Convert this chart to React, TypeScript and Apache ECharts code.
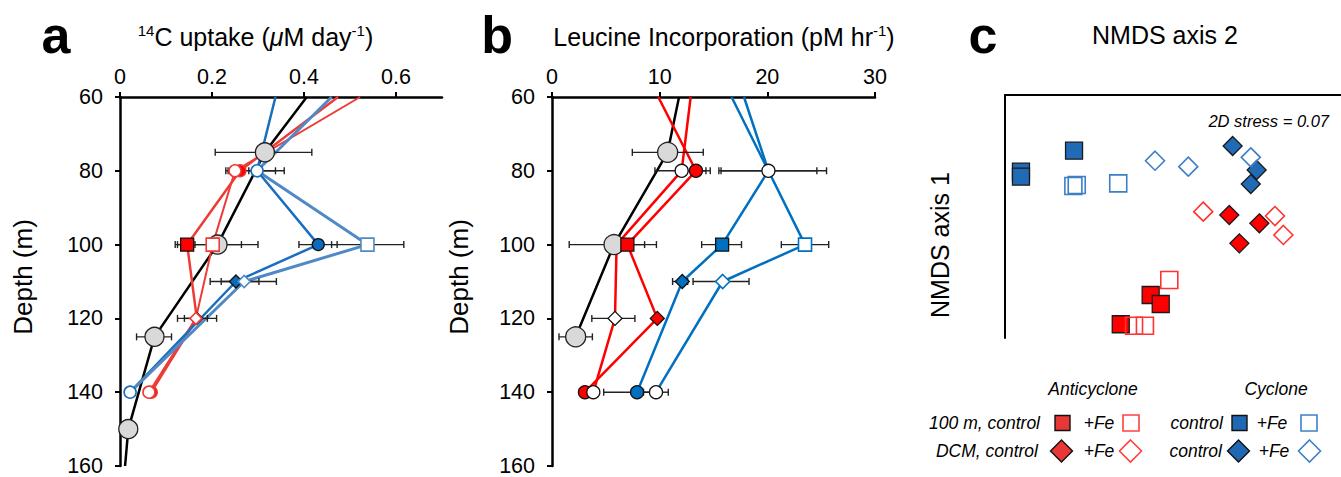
import React, { useEffect, useRef } from 'react';
import * as echarts from 'echarts';

// ---------- shared ----------
const depthMin = 60;
const depthMax = 160;
const depthStep = 20;
const aTicks = [0, 0.2, 0.4, 0.6];
const bTicks = [0, 10, 20, 30];

// ---------- panel a : 14C uptake ----------
const aBlackDepth = [60, 75, 100, 125, 150, 160];
const aBlack = [0.406, 0.315, 0.212, 0.075, 0.018, 0.011];
const aRedDepth = [60, 80, 100, 120, 140];
const aRedCtl = [0.474, 0.261, 0.146, 0.167, 0.068];
const aRedFe = [0.522, 0.25, 0.2015, 0.165, 0.063];
const aBlueDepth = [60, 80, 100, 110, 140];
const aBlueCtl = [0.338, 0.298, 0.431, 0.252, 0.022];
const aBlueFe = [0.46, 0.298, 0.538, 0.27, 0.022];
const aErrDepth = [75, 100, 125, 80, 80, 80, 80, 100, 100, 100, 100, 110, 110, 120, 120];
const aErrLo = [0.207, 0.12, 0.036, 0.23, 0.235, 0.27, 0.28, 0.125, 0.14, 0.389, 0.46, 0.196, 0.22, 0.125, 0.14];
const aErrHi = [0.417, 0.3, 0.112, 0.272, 0.26, 0.357, 0.338, 0.163, 0.264, 0.472, 0.617, 0.302, 0.34, 0.21, 0.19];

// ---------- panel b : leucine incorporation ----------
const bBlackDepth = [60, 75, 100, 125];
const bBlack = [11.8, 10.74, 5.76, 2.2];
const bRedDepth = [60, 80, 100, 120, 140];
const bRedCtl = [9.87, 13.37, 7.0, 9.78, 3.06];
const bRedFe = [12.88, 12.04, 6.0, 5.85, 3.84];
const bBlueDepth = [60, 80, 100, 110, 140];
const bBlueCtl = [17.83, 20.1, 15.8, 12.1, 7.9];
const bBlueFe = [16.68, 20.1, 23.5, 15.85, 9.66];
const bErrDepth = [75, 100, 125, 80, 80, 80, 80, 100, 100, 100, 110, 110, 120, 140, 140];
const bErrLo = [7.46, 1.6, 0.65, 9.56, 12.5, 15.5, 15.7, 5.3, 13.9, 21.3, 11.2, 13.1, 3.7, 4.8, 8.5];
const bErrHi = [14.05, 9.7, 3.75, 14.3, 14.7, 25.5, 24.6, 8.6, 17.6, 25.7, 12.6, 18.3, 7.7, 10.0, 10.8];

// ---------- panel c : NMDS ----------
const cycCtl100X = [-0.905, -0.905, -0.589];
const cycCtl100Y = [0.369, 0.328, 0.542];
const cycFe100X = [-0.593, -0.573, -0.326];
const cycFe100Y = [0.251, 0.259, 0.273];
const cycCtlDcmX = [0.355, 0.498, 0.463];
const cycCtlDcmY = [0.58, 0.383, 0.267];
const cycFeDcmX = [-0.107, 0.091, 0.463];
const cycFeDcmY = [0.459, 0.41, 0.487];
const antCtl100X = [-0.133, -0.073, -0.311];
const antCtl100Y = [-0.646, -0.72, -0.887];
const antFe100X = [-0.022, -0.232, -0.167];
const antFe100Y = [-0.523, -0.899, -0.899];
const antCtlDcmX = [0.335, 0.514, 0.395];
const antCtlDcmY = [0.012, -0.056, -0.221];
const antFeDcmX = [0.18, 0.607, 0.657];
const antFeDcmY = [0.04, 0.004, -0.152];
const stressText = '2D stress = 0.07';

const FONT = "'Liberation Sans', Arial, Helvetica, sans-serif";
const TICK_FS = 21.5;
const TITLE_FS = 25;

const line = (gi: number, depth: number[], vals: number[], color: string, width: number, z = 2) => ({
  type: 'line', xAxisIndex: gi, yAxisIndex: gi, z, silent: true,
  data: vals.map((v, i) => [v, depth[i]]),
  symbol: 'none', lineStyle: { color, width }, emphasis: { disabled: true },
});

const marks = (gi: number, depth: number[], vals: number[], idx: number[], symbol: string, size: number,
  color: string, border: string, bw = 1.3, z = 5) => ({
  type: 'scatter', xAxisIndex: gi, yAxisIndex: gi, z, silent: true,
  symbol, symbolSize: size,
  data: idx.map((i) => [vals[i], depth[i]]),
  itemStyle: { color, borderColor: border, borderWidth: bw, opacity: 1 },
  emphasis: { disabled: true },
});

const errors = (gi: number, depth: number[], lo: number[], hi: number[]) => ({
  type: 'custom', xAxisIndex: gi, yAxisIndex: gi, z: 3, silent: true,
  data: depth.map((d, i) => [lo[i], hi[i], d]),
  encode: { x: [0, 1], y: 2 },
  renderItem: (_p: any, api: any) => {
    const p1 = api.coord([api.value(0), api.value(2)]);
    const p2 = api.coord([api.value(1), api.value(2)]);
    const h = 3.5;
    const style = { stroke: '#222', lineWidth: 1.4 };
    return {
      type: 'group',
      children: [
        { type: 'line', shape: { x1: p1[0], y1: p1[1], x2: p2[0], y2: p2[1] }, style },
        { type: 'line', shape: { x1: p1[0], y1: p1[1] - h, x2: p1[0], y2: p1[1] + h }, style },
        { type: 'line', shape: { x1: p2[0], y1: p2[1] - h, x2: p2[0], y2: p2[1] + h }, style },
      ],
    };
  },
});

const nmds = (xs: number[], ys: number[], symbol: string, size: number, color: string, border: string, bw: number, z = 5) => ({
  type: 'scatter', xAxisIndex: 2, yAxisIndex: 2, z, silent: true,
  symbol, symbolSize: size,
  data: xs.map((x, i) => [x, ys[i]]),
  itemStyle: { color, borderColor: border, borderWidth: bw, opacity: 1 },
  emphasis: { disabled: true },
});

const depthAxis = (gi: number) => ({
  gridIndex: gi, type: 'value', inverse: true, min: depthMin, max: depthMax, interval: depthStep,
  axisLine: { show: true, onZero: false, lineStyle: { color: '#000', width: 2.5 } },
  axisTick: { show: true, length: 5, lineStyle: { color: '#000', width: 2 } },
  axisLabel: { fontSize: TICK_FS, color: '#000', margin: 17, fontFamily: FONT },
  splitLine: { show: false },
});

const valueAxis = (gi: number, max: number, ticks: number[]) => ({
  gridIndex: gi, type: 'value', position: 'top', min: 0, max,
  axisLine: { show: true, onZero: false, lineStyle: { color: '#000', width: 2.5 } },
  axisTick: { show: true, length: 5, customValues: ticks, lineStyle: { color: '#000', width: 2 } },
  axisLabel: { fontSize: TICK_FS, color: '#000', margin: 9, fontFamily: FONT, customValues: ticks },
  splitLine: { show: false },
});

const txt = (x: number, y: number, text: string, size: number, opts: any = {}) => ({
  type: 'text', x, y, rotation: opts.rotation || 0, silent: true,
  style: {
    text, fontSize: size, fontFamily: FONT, fill: '#000',
    fontWeight: opts.bold ? 'bold' : 'normal', fontStyle: opts.italic ? 'italic' : 'normal',
    align: opts.align || 'center', verticalAlign: 'middle', rich: opts.rich,
  },
});

const sq = (cx: number, cy: number, s: number, fill: string, stroke: string, lw: number) => ({
  type: 'rect', silent: true, shape: { x: cx - s / 2, y: cy - s / 2, width: s, height: s },
  style: { fill, stroke, lineWidth: lw },
});
const dia = (cx: number, cy: number, r: number, fill: string, stroke: string, lw: number) => ({
  type: 'polygon', silent: true,
  shape: { points: [[cx, cy - r], [cx + r, cy], [cx, cy + r], [cx - r, cy]] },
  style: { fill, stroke, lineWidth: lw },
});

const titleRich = (size: number) => ({
  n: { fontSize: size, fontFamily: FONT, fill: '#000', lineHeight: size + 4 },
  s: { fontSize: Math.round(size * 0.6), fontFamily: FONT, fill: '#000', verticalAlign: 'top', lineHeight: size + 4 },
  i: { fontSize: size, fontFamily: FONT, fill: '#000', fontStyle: 'italic', lineHeight: size + 4 },
});

export default function App() {
  const ref = useRef<HTMLDivElement>(null);
  useEffect(() => {
    if (!ref.current) return;
    const chart = echarts.init(ref.current, undefined, { renderer: 'svg' });
    const aRed = '#ef3b36';
    const aBlueD = '#1a6ebd';
    const aBlueL = '#5089c6';
    const bRed = '#ff0000';
    const bBlue = '#0070c0';
    const gray = '#d9d9d9';

    const series: any[] = [
      // panel a
      line(0, aBlackDepth, aBlack, '#000', 2.5),
      line(0, aRedDepth, aRedCtl, aRed, 2.5),
      line(0, aRedDepth, aRedFe, aRed, 2),
      line(0, aBlueDepth, aBlueCtl, aBlueD, 2.5),
      line(0, aBlueDepth, aBlueFe, aBlueL, 3),
      errors(0, aErrDepth, aErrLo, aErrHi),
      marks(0, aBlackDepth, aBlack, [1, 2, 3, 4], 'circle', 19, gray, '#222'),
      marks(0, aRedDepth, aRedCtl, [1, 4], 'circle', 12, '#ff0000', aRed),
      marks(0, aRedDepth, aRedCtl, [2], 'rect', 13, '#ff0000', '#111'),
      marks(0, aRedDepth, aRedCtl, [3], 'diamond', 12, '#ff0000', '#111'),
      marks(0, aRedDepth, aRedFe, [1, 4], 'circle', 12, '#fff', aRed, 1.6, 6),
      marks(0, aRedDepth, aRedFe, [2], 'rect', 13, '#fff', aRed, 1.6, 6),
      marks(0, aRedDepth, aRedFe, [3], 'diamond', 12, '#fff', aRed, 1.6, 6),
      marks(0, aBlueDepth, aBlueCtl, [2], 'circle', 12, '#0a6cc0', '#111'),
      marks(0, aBlueDepth, aBlueCtl, [3], 'diamond', 13, '#0a6cc0', '#111'),
      marks(0, aBlueDepth, aBlueFe, [1, 4], 'circle', 12, '#fff', aBlueD, 1.6, 6),
      marks(0, aBlueDepth, aBlueFe, [2], 'rect', 13, '#fff', aBlueL, 1.6, 6),
      marks(0, aBlueDepth, aBlueFe, [3], 'diamond', 12, '#fff', aBlueL, 1.6, 6),
      // panel b
      line(1, bBlackDepth, bBlack, '#000', 2.5),
      line(1, bRedDepth, bRedCtl, bRed, 2.5),
      line(1, bRedDepth, bRedFe, bRed, 2.5),
      line(1, bBlueDepth, bBlueCtl, bBlue, 2.5),
      line(1, bBlueDepth, bBlueFe, bBlue, 2.5),
      errors(1, bErrDepth, bErrLo, bErrHi),
      marks(1, bRedDepth, bRedCtl, [1, 4], 'circle', 13, bRed, '#111', 1.3, 4),
      marks(1, bRedDepth, bRedCtl, [2], 'rect', 13, bRed, '#111', 1.3, 6),
      marks(1, bRedDepth, bRedCtl, [3], 'diamond', 14, bRed, '#111'),
      marks(1, bRedDepth, bRedFe, [1, 4], 'circle', 13, '#fff', '#111', 1.3, 5),
      marks(1, bRedDepth, bRedFe, [3], 'diamond', 14, '#fff', '#111'),
      marks(1, bBlackDepth, bBlack, [1, 2, 3], 'circle', 20, gray, '#222', 1.3, 5),
      marks(1, bBlueDepth, bBlueCtl, [2], 'rect', 13, bBlue, '#111'),
      marks(1, bBlueDepth, bBlueCtl, [3], 'diamond', 14, bBlue, '#111'),
      marks(1, bBlueDepth, bBlueCtl, [4], 'circle', 13, bBlue, '#111'),
      marks(1, bBlueDepth, bBlueFe, [1, 4], 'circle', 13, '#fff', '#111'),
      marks(1, bBlueDepth, bBlueFe, [2], 'rect', 13, '#fff', bBlue, 1.6),
      marks(1, bBlueDepth, bBlueFe, [3], 'diamond', 14, '#fff', bBlue, 1.6),
      // panel c
      nmds(cycCtl100X, cycCtl100Y, 'rect', 17, '#216bb6', '#1a1a1a', 1.3),
      nmds(cycFe100X, cycFe100Y, 'rect', 17, 'rgba(255,255,255,0)', '#3d7fc7', 1.6),
      nmds(cycCtlDcmX, cycCtlDcmY, 'diamond', 19, '#216bb6', '#1a1a1a', 1.3),
      nmds(cycFeDcmX, cycFeDcmY, 'diamond', 19, 'rgba(255,255,255,0)', '#3d7fc7', 1.6, 6),
      nmds(antCtl100X, antCtl100Y, 'rect', 17, '#ff0000', '#1a1a1a', 1.3),
      nmds(antFe100X, antFe100Y, 'rect', 17, 'rgba(255,255,255,0)', '#ff3333', 1.6, 6),
      nmds(antCtlDcmX, antCtlDcmY, 'diamond', 19, '#ff0000', '#1a1a1a', 1.3),
      nmds(antFeDcmX, antFeDcmY, 'diamond', 19, 'rgba(255,255,255,0)', '#ff3333', 1.6, 6),
    ];

    const legendRed = '#e93636';
    const legendBlue = '#2068b3';
    const LF = 17.5;
    const graphics: any[] = [
      txt(56, 35, 'a', 52, { bold: true }),
      txt(497, 35, 'b', 52, { bold: true }),
      txt(983, 35, 'c', 52, { bold: true }),
      txt(255.5, 37, '{s|14}{n|C uptake (}{i|μ}{n|M day}{s|-1}{n|)}', TITLE_FS, { rich: titleRich(TITLE_FS) }),
      txt(724, 37, '{n|Leucine Incorporation (pM hr}{s|-1}{n|)}', TITLE_FS, { rich: titleRich(TITLE_FS) }),
      txt(1165, 35, 'NMDS axis 2', TITLE_FS),
      txt(22.5, 277, 'Depth (m)', 26, { rotation: Math.PI / 2 }),
      txt(459, 277, 'Depth (m)', 26, { rotation: Math.PI / 2 }),
      txt(940, 245, 'NMDS axis 1', TITLE_FS, { rotation: Math.PI / 2 }),
      txt(1329, 121, stressText, 16.5, { italic: true, align: 'right' }),
      txt(1093, 389, 'Anticyclone', LF, { italic: true }),
      txt(1276, 389, 'Cyclone', LF, { italic: true }),
      txt(1040, 423, '100 m, control', LF, { italic: true, align: 'right' }),
      txt(1099, 423, '+Fe', LF, { italic: true }),
      txt(1223, 423, 'control', LF, { italic: true, align: 'right' }),
      txt(1272, 423, '+Fe', LF, { italic: true }),
      txt(1038, 451, 'DCM, control', LF, { italic: true, align: 'right' }),
      txt(1099, 451, '+Fe', LF, { italic: true }),
      txt(1222, 451, 'control', LF, { italic: true, align: 'right' }),
      txt(1274, 451, '+Fe', LF, { italic: true }),
      sq(1062.5, 423, 15, legendRed, '#111', 1.4),
      sq(1131, 423, 16, '#fff', '#ff4040', 1.6),
      sq(1239.5, 423, 15, legendBlue, '#111', 1.4),
      sq(1309, 423, 16, '#fff', '#3d80c8', 1.6),
      dia(1061.5, 451, 11, legendRed, '#111', 1.4),
      dia(1130.5, 451, 11, '#fff', '#ff4040', 1.6),
      dia(1238.5, 451, 11, legendBlue, '#111', 1.4),
      dia(1309.5, 451, 11, '#fff', '#3d80c8', 1.6),
    ];

    chart.setOption({
      animation: false,
      grid: [
        { left: 120, top: 97, width: 322, height: 373 },
        { left: 552, top: 97, width: 323, height: 373 },
        { left: 1005, top: 95, width: 336, height: 243 },
      ],
      xAxis: [
        valueAxis(0, 0.7, aTicks),
        valueAxis(1, 30, bTicks),
        {
          gridIndex: 2, type: 'value', position: 'top', min: -1, max: 1,
          axisLine: { show: true, onZero: false, lineStyle: { color: '#000', width: 2 } },
          axisTick: { show: false }, axisLabel: { show: false }, splitLine: { show: false },
        },
      ],
      yAxis: [
        depthAxis(0),
        depthAxis(1),
        {
          gridIndex: 2, type: 'value', min: -1, max: 1,
          axisLine: { show: true, onZero: false, lineStyle: { color: '#000', width: 2 } },
          axisTick: { show: false }, axisLabel: { show: false }, splitLine: { show: false },
        },
      ],
      series,
      graphic: graphics,
    });
    return () => chart.dispose();
  }, []);
  return <div ref={ref} style={{ position: 'absolute', left: 0, top: 0, width: 1341, height: 477, background: '#fff' }} />;
}
